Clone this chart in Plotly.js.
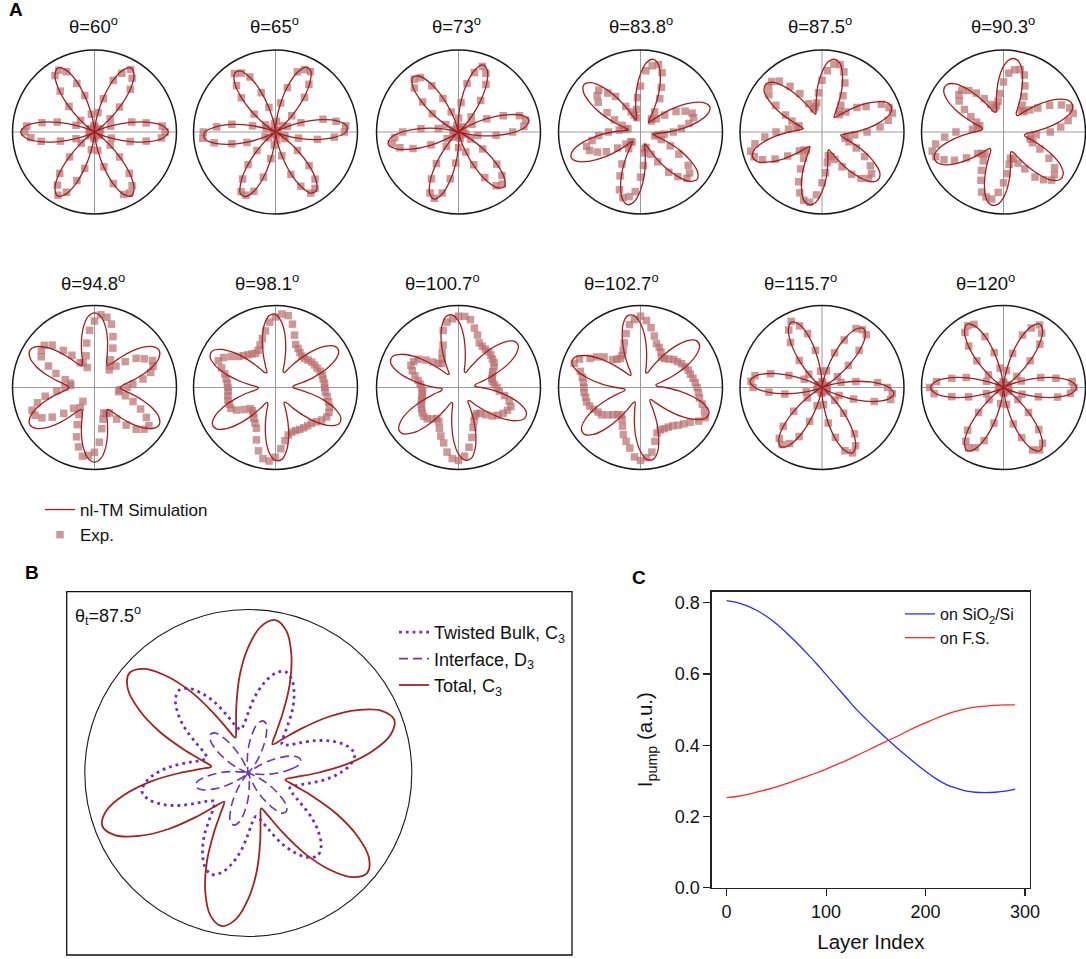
<!DOCTYPE html>
<html><head><meta charset="utf-8">
<script src="https://cdn.plot.ly/plotly-3.0.1.min.js"></script>
<style>html,body{margin:0;padding:0;background:#fff}</style>
</head><body>
<div id="chart" style="width:1086px;height:959px"></div>
<script>
// ---------- DATA ----------
const ANGLES = [0,5,10,15,20,25,30,35,40,45,50,55,60,65,70,75,80,85,90,95,100,105,110,115,120,125,130,135,140,145,150,155,160,165,170,175,180,185,190,195,200,205,210,215,220,225,230,235,240,245,250,255,260,265,270,275,280,285,290,295,300,305,310,315,320,325,330,335,340,345,350,355];

const panelTitles = ['θ=60<sup>o</sup>','θ=65<sup>o</sup>','θ=73<sup>o</sup>','θ=83.8<sup>o</sup>','θ=87.5<sup>o</sup>','θ=90.3<sup>o</sup>',
                     'θ=94.8<sup>o</sup>','θ=98.1<sup>o</sup>','θ=100.7<sup>o</sup>','θ=102.7<sup>o</sup>','θ=115.7<sup>o</sup>','θ=120<sup>o</sup>'];

// nl-TM simulation (normalised radius, 1 = outer circle), sampled every 5 deg
const sim_60 = [0.90,0.84,0.68,0.45,0.23,0.06,0,0.06,0.23,0.45,0.68,0.84, 0.90,0.84,0.68,0.45,0.23,0.06,0,0.06,0.23,0.45,0.68,0.84, 0.90,0.84,0.68,0.45,0.23,0.06,0,0.06,0.23,0.45,0.68,0.84, 0.90,0.84,0.68,0.45,0.23,0.06,0,0.06,0.23,0.45,0.68,0.84, 0.90,0.84,0.68,0.45,0.23,0.06,0,0.06,0.23,0.45,0.68,0.84, 0.90,0.84,0.68,0.45,0.23,0.06,0,0.06,0.23,0.45,0.68,0.84];
const sim_65 = [0.86,0.87,0.77,0.58,0.35,0.15,0.02,0.01,0.11,0.30,0.53,0.73, 0.86,0.87,0.77,0.58,0.35,0.15,0.02,0.01,0.11,0.30,0.53,0.73, 0.86,0.87,0.77,0.58,0.35,0.15,0.02,0.01,0.11,0.30,0.53,0.73, 0.86,0.87,0.77,0.58,0.35,0.15,0.02,0.01,0.11,0.30,0.53,0.73, 0.86,0.87,0.77,0.58,0.35,0.15,0.02,0.01,0.11,0.30,0.53,0.73, 0.86,0.87,0.77,0.58,0.35,0.15,0.02,0.01,0.11,0.30,0.53,0.73];
const sim_73 = [0.69,0.83,0.87,0.79,0.61,0.39,0.18,0.04,0.00,0.08,0.26,0.48, 0.69,0.83,0.87,0.79,0.61,0.39,0.18,0.04,0.00,0.08,0.26,0.48, 0.69,0.83,0.87,0.79,0.61,0.39,0.18,0.04,0.00,0.08,0.26,0.48, 0.69,0.83,0.87,0.79,0.61,0.39,0.18,0.04,0.00,0.08,0.26,0.48, 0.69,0.83,0.87,0.79,0.61,0.39,0.18,0.04,0.00,0.08,0.26,0.48, 0.69,0.83,0.87,0.79,0.61,0.39,0.18,0.04,0.00,0.08,0.26,0.48];
const sim_83_8 = [0.34,0.53,0.71,0.85,0.90,0.85,0.71,0.53,0.34,0.20,0.15,0.20, 0.34,0.53,0.71,0.85,0.90,0.85,0.71,0.53,0.34,0.20,0.15,0.20, 0.34,0.53,0.71,0.85,0.90,0.85,0.71,0.53,0.34,0.20,0.15,0.20, 0.34,0.53,0.71,0.85,0.90,0.85,0.71,0.53,0.34,0.20,0.15,0.20, 0.34,0.53,0.71,0.85,0.90,0.85,0.71,0.53,0.34,0.20,0.15,0.20, 0.34,0.53,0.71,0.85,0.90,0.85,0.71,0.53,0.34,0.20,0.15,0.20];
const sim_87_5 = [0.40,0.57,0.73,0.86,0.90,0.86,0.73,0.57,0.40,0.28,0.23,0.28, 0.40,0.57,0.73,0.86,0.90,0.86,0.73,0.57,0.40,0.28,0.23,0.28, 0.40,0.57,0.73,0.86,0.90,0.86,0.73,0.57,0.40,0.28,0.23,0.28, 0.40,0.57,0.73,0.86,0.90,0.86,0.73,0.57,0.40,0.28,0.23,0.28, 0.40,0.57,0.73,0.86,0.90,0.86,0.73,0.57,0.40,0.28,0.23,0.28, 0.40,0.57,0.73,0.86,0.90,0.86,0.73,0.57,0.40,0.28,0.23,0.28];
const sim_90_3 = [0.36,0.51,0.68,0.83,0.90,0.89,0.80,0.65,0.48,0.34,0.26,0.27, 0.36,0.51,0.68,0.83,0.90,0.89,0.80,0.65,0.48,0.34,0.26,0.27, 0.36,0.51,0.68,0.83,0.90,0.89,0.80,0.65,0.48,0.34,0.26,0.27, 0.36,0.51,0.68,0.83,0.90,0.89,0.80,0.65,0.48,0.34,0.26,0.27, 0.36,0.51,0.68,0.83,0.90,0.89,0.80,0.65,0.48,0.34,0.26,0.27, 0.36,0.51,0.68,0.83,0.90,0.89,0.80,0.65,0.48,0.34,0.26,0.27];
const sim_94_8 = [0.31,0.35,0.46,0.61,0.76,0.87,0.91,0.87,0.76,0.61,0.46,0.35, 0.31,0.35,0.46,0.61,0.76,0.87,0.91,0.87,0.76,0.61,0.46,0.35, 0.31,0.35,0.46,0.61,0.76,0.87,0.91,0.87,0.76,0.61,0.46,0.35, 0.31,0.35,0.46,0.61,0.76,0.87,0.91,0.87,0.76,0.61,0.46,0.35, 0.31,0.35,0.46,0.61,0.76,0.87,0.91,0.87,0.76,0.61,0.46,0.35, 0.31,0.35,0.46,0.61,0.76,0.87,0.91,0.87,0.76,0.61,0.46,0.35];
const sim_98_1 = [0.21,0.22,0.32,0.48,0.66,0.81,0.89,0.88,0.78,0.62,0.44,0.29, 0.21,0.22,0.32,0.48,0.66,0.81,0.89,0.88,0.78,0.62,0.44,0.29, 0.21,0.22,0.32,0.48,0.66,0.81,0.89,0.88,0.78,0.62,0.44,0.29, 0.21,0.22,0.32,0.48,0.66,0.81,0.89,0.88,0.78,0.62,0.44,0.29, 0.21,0.22,0.32,0.48,0.66,0.81,0.89,0.88,0.78,0.62,0.44,0.29, 0.21,0.22,0.32,0.48,0.66,0.81,0.89,0.88,0.78,0.62,0.44,0.29];
const sim_100_7 = [0.28,0.20,0.21,0.31,0.47,0.66,0.81,0.89,0.88,0.78,0.62,0.44, 0.28,0.20,0.21,0.31,0.47,0.66,0.81,0.89,0.88,0.78,0.62,0.44, 0.28,0.20,0.21,0.31,0.47,0.66,0.81,0.89,0.88,0.78,0.62,0.44, 0.28,0.20,0.21,0.31,0.47,0.66,0.81,0.89,0.88,0.78,0.62,0.44, 0.28,0.20,0.21,0.31,0.47,0.66,0.81,0.89,0.88,0.78,0.62,0.44, 0.28,0.20,0.21,0.31,0.47,0.66,0.81,0.89,0.88,0.78,0.62,0.44];
const sim_102_7 = [0.30,0.20,0.19,0.27,0.43,0.62,0.78,0.88,0.89,0.81,0.65,0.47, 0.30,0.20,0.19,0.27,0.43,0.62,0.78,0.88,0.89,0.81,0.65,0.47, 0.30,0.20,0.19,0.27,0.43,0.62,0.78,0.88,0.89,0.81,0.65,0.47, 0.30,0.20,0.19,0.27,0.43,0.62,0.78,0.88,0.89,0.81,0.65,0.47, 0.30,0.20,0.19,0.27,0.43,0.62,0.78,0.88,0.89,0.81,0.65,0.47, 0.30,0.20,0.19,0.27,0.43,0.62,0.78,0.88,0.89,0.81,0.65,0.47];
const sim_115_7 = [0.82,0.66,0.44,0.22,0.06,0,0.06,0.22,0.44,0.66,0.82,0.88, 0.82,0.66,0.44,0.22,0.06,0,0.06,0.22,0.44,0.66,0.82,0.88, 0.82,0.66,0.44,0.22,0.06,0,0.06,0.22,0.44,0.66,0.82,0.88, 0.82,0.66,0.44,0.22,0.06,0,0.06,0.22,0.44,0.66,0.82,0.88, 0.82,0.66,0.44,0.22,0.06,0,0.06,0.22,0.44,0.66,0.82,0.88, 0.82,0.66,0.44,0.22,0.06,0,0.06,0.22,0.44,0.66,0.82,0.88];
const sim_120 = [0.89,0.83,0.67,0.45,0.22,0.06,0,0.06,0.22,0.45,0.67,0.83, 0.89,0.83,0.67,0.45,0.22,0.06,0,0.06,0.22,0.45,0.67,0.83, 0.89,0.83,0.67,0.45,0.22,0.06,0,0.06,0.22,0.45,0.67,0.83, 0.89,0.83,0.67,0.45,0.22,0.06,0,0.06,0.22,0.45,0.67,0.83, 0.89,0.83,0.67,0.45,0.22,0.06,0,0.06,0.22,0.45,0.67,0.83, 0.89,0.83,0.67,0.45,0.22,0.06,0,0.06,0.22,0.45,0.67,0.83];

// experimental points (normalised radius), every 5 deg
const exp_60 = [0.86,0.83,0.64,0.47,0.21,0.08,0.02,0.06,0.25,0.43,0.68,0.80, 0.88,0.79,0.67,0.42,0.24,0.06,0.01,0.08,0.22,0.46,0.63,0.81, 0.87,0.84,0.65,0.44,0.22,0.07,0.02,0.07,0.24,0.47,0.65,0.83, 0.85,0.78,0.66,0.43,0.24,0.05,0.01,0.08,0.21,0.43,0.66,0.79, 0.89,0.81,0.63,0.46,0.22,0.08,0.02,0.06,0.23,0.44,0.67,0.84, 0.86,0.80,0.66,0.43,0.25,0.07,0.01,0.07,0.22,0.45,0.64,0.82];
const exp_65 = [0.84,0.86,0.75,0.60,0.33,0.16,0.03,0.02,0.12,0.28,0.55,0.71, 0.85,0.84,0.78,0.56,0.36,0.13,0.02,0.02,0.10,0.31,0.51,0.74, 0.83,0.87,0.74,0.59,0.34,0.15,0.03,0.01,0.12,0.29,0.54,0.72, 0.88,0.89,0.76,0.55,0.37,0.14,0.02,0.02,0.11,0.32,0.52,0.70, 0.84,0.85,0.77,0.57,0.33,0.16,0.03,0.01,0.10,0.30,0.55,0.73, 0.86,0.84,0.75,0.58,0.35,0.14,0.02,0.02,0.12,0.29,0.52,0.72];
const exp_73 = [0.66,0.80,0.83,0.77,0.58,0.38,0.19,0.05,0.02,0.09,0.24,0.47, 0.67,0.79,0.85,0.75,0.60,0.36,0.17,0.05,0.01,0.08,0.26,0.45, 0.65,0.81,0.84,0.76,0.57,0.39,0.18,0.06,0.02,0.07,0.25,0.46, 0.68,0.78,0.82,0.74,0.59,0.37,0.16,0.04,0.01,0.09,0.23,0.47, 0.66,0.82,0.86,0.77,0.58,0.38,0.19,0.05,0.02,0.08,0.26,0.44, 0.64,0.80,0.83,0.75,0.61,0.36,0.17,0.06,0.01,0.09,0.24,0.46];
const exp_83_8 = [0.40,0.50,0.60,0.67,0.67,0.60,0.50,0.36,0.25,0.19,0.21,0.30, 0.47,0.60,0.77,0.85,0.82,0.75,0.56,0.42,0.28,0.18,0.22,0.27, 0.36,0.53,0.62,0.72,0.69,0.63,0.47,0.35,0.24,0.16,0.19,0.26, 0.39,0.51,0.60,0.68,0.66,0.58,0.48,0.34,0.23,0.17,0.16,0.25, 0.45,0.59,0.75,0.83,0.80,0.73,0.55,0.41,0.26,0.21,0.20,0.30, 0.42,0.60,0.71,0.80,0.78,0.71,0.54,0.40,0.27,0.18,0.21,0.29];
const exp_87_5 = [0.55,0.71,0.82,0.89,0.87,0.80,0.62,0.52,0.38,0.30,0.33,0.40, 0.51,0.66,0.78,0.85,0.84,0.75,0.63,0.48,0.36,0.32,0.30,0.38, 0.54,0.68,0.81,0.87,0.85,0.79,0.65,0.49,0.39,0.29,0.32,0.41, 0.56,0.70,0.83,0.90,0.88,0.80,0.66,0.51,0.36,0.31,0.30,0.39, 0.52,0.67,0.79,0.86,0.87,0.77,0.62,0.50,0.38,0.30,0.32,0.37, 0.49,0.63,0.74,0.80,0.79,0.72,0.60,0.46,0.35,0.29,0.31,0.40];
const exp_90_3 = [0.57,0.70,0.80,0.88,0.86,0.78,0.65,0.51,0.42,0.35,0.34,0.40, 0.50,0.62,0.74,0.79,0.77,0.72,0.61,0.47,0.38,0.33,0.31,0.37, 0.47,0.58,0.66,0.72,0.71,0.66,0.55,0.44,0.35,0.30,0.32,0.38, 0.58,0.72,0.84,0.90,0.88,0.80,0.69,0.55,0.41,0.37,0.35,0.43, 0.54,0.65,0.78,0.82,0.83,0.74,0.62,0.51,0.40,0.33,0.35,0.42, 0.52,0.67,0.76,0.83,0.81,0.76,0.64,0.49,0.38,0.34,0.33,0.40];
const exp_94_8 = [0.40,0.47,0.60,0.71,0.76,0.78,0.70,0.62,0.49,0.37,0.28,0.32, 0.39,0.53,0.66,0.80,0.87,0.89,0.81,0.70,0.55,0.40,0.26,0.33, 0.35,0.48,0.59,0.73,0.80,0.79,0.75,0.62,0.50,0.37,0.30,0.29, 0.36,0.46,0.61,0.72,0.81,0.80,0.74,0.63,0.49,0.36,0.22,0.30, 0.38,0.50,0.64,0.75,0.85,0.83,0.79,0.67,0.51,0.40,0.33,0.35, 0.36,0.47,0.60,0.72,0.79,0.81,0.73,0.62,0.50,0.39,0.30,0.31];
const exp_98_1 = [0.60,0.60,0.59,0.59,0.58,0.56,0.55,0.54,0.52,0.50,0.50,0.52, 0.55,0.58,0.68,0.80,0.89,0.90,0.86,0.80,0.70,0.62,0.55,0.50, 0.48,0.50,0.52,0.55,0.59,0.66,0.73,0.77,0.70,0.64,0.61,0.59, 0.58,0.58,0.59,0.60,0.60,0.60,0.55,0.47,0.40,0.40,0.42,0.46, 0.50,0.55,0.68,0.80,0.88,0.90,0.85,0.75,0.66,0.60,0.58,0.58, 0.59,0.60,0.61,0.62,0.65,0.69,0.72,0.72,0.70,0.67,0.64,0.61];
const exp_100_7 = [0.47,0.44,0.42,0.42,0.44,0.46,0.50,0.53,0.54,0.56,0.57,0.57, 0.58,0.60,0.68,0.75,0.84,0.87,0.87,0.84,0.81,0.72,0.55,0.47, 0.40,0.36,0.38,0.44,0.52,0.60,0.63,0.64,0.60,0.55,0.50,0.47, 0.45,0.44,0.45,0.46,0.48,0.50,0.52,0.54,0.55,0.54,0.50,0.46, 0.48,0.55,0.63,0.70,0.80,0.87,0.89,0.84,0.74,0.63,0.52,0.45, 0.40,0.39,0.41,0.47,0.54,0.59,0.63,0.66,0.68,0.64,0.57,0.50];
const exp_102_7 = [0.69,0.67,0.65,0.63,0.62,0.60,0.58,0.55,0.53,0.49,0.46,0.45, 0.50,0.54,0.57,0.65,0.74,0.82,0.87,0.83,0.78,0.68,0.58,0.50, 0.45,0.43,0.45,0.48,0.58,0.65,0.71,0.82,0.86,0.76,0.72,0.70, 0.69,0.69,0.68,0.68,0.66,0.63,0.60,0.58,0.52,0.47,0.43,0.41, 0.45,0.52,0.61,0.68,0.75,0.85,0.89,0.86,0.80,0.68,0.59,0.57, 0.58,0.59,0.61,0.65,0.69,0.74,0.82,0.87,0.83,0.78,0.73,0.71];
const exp_115_7 = [0.80,0.68,0.42,0.24,0.07,0.01,0.05,0.23,0.42,0.64,0.84,0.86, 0.83,0.64,0.45,0.21,0.06,0.02,0.07,0.20,0.46,0.68,0.80,0.89, 0.81,0.67,0.43,0.23,0.05,0.01,0.06,0.24,0.43,0.65,0.83,0.87, 0.84,0.65,0.46,0.20,0.07,0.02,0.05,0.22,0.45,0.67,0.81,0.85, 0.79,0.66,0.44,0.23,0.06,0.01,0.07,0.21,0.44,0.63,0.82,0.88, 0.82,0.69,0.41,0.22,0.08,0.02,0.06,0.23,0.41,0.66,0.85,0.86];
const exp_120 = [0.86,0.84,0.65,0.47,0.23,0.07,0.01,0.05,0.21,0.46,0.69,0.81, 0.88,0.80,0.68,0.43,0.21,0.06,0.02,0.07,0.24,0.44,0.66,0.85, 0.87,0.82,0.66,0.46,0.24,0.05,0.01,0.06,0.22,0.47,0.64,0.82, 0.90,0.85,0.64,0.44,0.22,0.07,0.02,0.05,0.23,0.43,0.68,0.80, 0.85,0.81,0.69,0.45,0.20,0.06,0.01,0.07,0.21,0.46,0.65,0.84, 0.88,0.83,0.67,0.43,0.23,0.08,0.02,0.06,0.24,0.44,0.67,0.82];

// Panel B (theta_t = 87.5 deg), every 5 deg
const B_bulk = [0.56,0.63,0.66,0.63,0.56,0.47,0.37,0.30,0.27,0.30,0.37,0.47, 0.56,0.63,0.66,0.63,0.56,0.47,0.37,0.30,0.27,0.30,0.37,0.47, 0.56,0.63,0.66,0.63,0.56,0.47,0.37,0.30,0.27,0.30,0.37,0.47, 0.56,0.63,0.66,0.63,0.56,0.47,0.37,0.30,0.27,0.30,0.37,0.47, 0.56,0.63,0.66,0.63,0.56,0.47,0.37,0.30,0.27,0.30,0.37,0.47, 0.56,0.63,0.66,0.63,0.56,0.47,0.37,0.30,0.27,0.30,0.37,0.47];
const B_interface = [0.18,0.26,0.32,0.33,0.30,0.23,0.15,0.07,0.01,0.00,0.03,0.10, 0.18,0.26,0.32,0.33,0.30,0.23,0.15,0.07,0.01,0.00,0.03,0.10, 0.18,0.26,0.32,0.33,0.30,0.23,0.15,0.07,0.01,0.00,0.03,0.10, 0.18,0.26,0.32,0.33,0.30,0.23,0.15,0.07,0.01,0.00,0.03,0.10, 0.18,0.26,0.32,0.33,0.30,0.23,0.15,0.07,0.01,0.00,0.03,0.10, 0.18,0.26,0.32,0.33,0.30,0.23,0.15,0.07,0.01,0.00,0.03,0.10];
const B_total = [0.42,0.60,0.77,0.90,0.95,0.90,0.77,0.60,0.42,0.29,0.23,0.29, 0.42,0.60,0.77,0.90,0.95,0.90,0.77,0.60,0.42,0.29,0.23,0.29, 0.42,0.60,0.77,0.90,0.95,0.90,0.77,0.60,0.42,0.29,0.23,0.29, 0.42,0.60,0.77,0.90,0.95,0.90,0.77,0.60,0.42,0.29,0.23,0.29, 0.42,0.60,0.77,0.90,0.95,0.90,0.77,0.60,0.42,0.29,0.23,0.29, 0.42,0.60,0.77,0.90,0.95,0.90,0.77,0.60,0.42,0.29,0.23,0.29];
const B_label = 'θ<sub>t</sub>=87.5<sup>o</sup>';
const B_names = ['Twisted Bulk, C<sub>3</sub>','Interface, D<sub>3</sub>','Total, C<sub>3</sub>'];

// Panel C
const layerIndex = [0,10,20,30,40,50,60,70,80,90,100,110,120,130,140,150,160,170,180,190,200,210,220,230,240,250,260,270,280,290];
const pump_SiO2Si = [0.806,0.801,0.792,0.779,0.762,0.741,0.716,0.689,0.660,0.630,0.598,0.566,0.534,0.502,0.474,0.447,0.421,0.396,0.372,0.349,0.327,0.307,0.291,0.280,0.272,0.268,0.267,0.268,0.271,0.277];
const pump_FS = [0.253,0.256,0.261,0.268,0.275,0.283,0.292,0.302,0.312,0.322,0.333,0.345,0.357,0.370,0.383,0.397,0.410,0.423,0.437,0.451,0.463,0.475,0.486,0.495,0.502,0.507,0.510,0.512,0.513,0.513];
const xTicks = [0,100,200,300];
const yTicks = [0,0.2,0.4,0.6,0.8];
const yTickText = ['0.0','0.2','0.4','0.6','0.8'];

// ---------- BUILD ----------
const W = 1086, H = 959;
const FONT = 'Arial, "Liberation Sans", Helvetica, sans-serif';
const SIM = [sim_60,sim_65,sim_73,sim_83_8,sim_87_5,sim_90_3,sim_94_8,sim_98_1,sim_100_7,sim_102_7,sim_115_7,sim_120];
const EXP = [exp_60,exp_65,exp_73,exp_83_8,exp_87_5,exp_90_3,exp_94_8,exp_98_1,exp_100_7,exp_102_7,exp_115_7,exp_120];
const COL_X = [94.5, 275.5, 458.5, 640.5, 822, 1003.5];
const ROW_Y = [132, 387.5];
const TITLE_X = [[93.5,274.5,456,641,820,1003],[92.5,267,442,621,800,985]];
const TITLE_Y = [25, 282];
const RAD = 82;

const closeR = a => a.concat([a[0]]);
const closeT = a => a.concat([a[0] + 360]);

function polarCfg(cx, cy, rad, cross, lw) {
  return {
    domain: {x: [(cx - rad) / W, (cx + rad) / W], y: [1 - (cy + rad) / H, 1 - (cy - rad) / H]},
    bgcolor: 'rgba(0,0,0,0)',
    radialaxis: {range: [0, 1], visible: false},
    angularaxis: {
      showticklabels: false, ticks: '', showline: true, linecolor: '#1a1a1a', linewidth: lw,
      showgrid: cross, gridcolor: '#9a9a9a', gridwidth: 1, tick0: 0, dtick: 90,
      direction: 'counterclockwise', rotation: 0
    }
  };
}

const traces = [];
const layout = {
  width: W, height: H, margin: {l: 0, r: 0, t: 0, b: 0},
  paper_bgcolor: '#fff', plot_bgcolor: '#fff',
  font: {family: FONT, color: '#111', size: 16},
  showlegend: true, annotations: [], shapes: []
};

for (let i = 0; i < 12; i++) {
  const id = i === 0 ? 'polar' : 'polar' + (i + 1);
  const row = Math.floor(i / 6), col = i % 6;
  layout[id] = polarCfg(COL_X[col], ROW_Y[row], RAD, true, 1.5);
  traces.push({
    type: 'scatterpolar', subplot: id, mode: 'markers', name: 'Exp.',
    r: EXP[i], theta: ANGLES,
    marker: {symbol: 'square', size: 7.5, color: 'rgba(186,112,112,0.72)', line: {width: 0}},
    showlegend: i === 0, legend: 'legend', legendgroup: 'exp', legendrank: 2, hoverinfo: 'skip'
  });
  traces.push({
    type: 'scatterpolar', subplot: id, mode: 'lines', name: 'nl-TM Simulation',
    r: closeR(SIM[i]), theta: closeT(ANGLES),
    line: {color: '#a31e1e', width: 1.3, shape: 'spline', smoothing: 1},
    showlegend: i === 0, legend: 'legend', legendgroup: 'sim', legendrank: 1, hoverinfo: 'skip'
  });
  layout.annotations.push({
    text: panelTitles[i], xref: 'paper', yref: 'paper',
    x: TITLE_X[row][col] / W, y: 1 - TITLE_Y[row] / H, xanchor: 'center', yanchor: 'middle',
    showarrow: false, font: {size: 18.5, color: '#111'}
  });
}

// Panel B
layout.polar13 = polarCfg(248.3, 773, 163.5, false, 1.1);
const Bstyles = [
  {color: '#6e2ec6', width: 2.8, dash: '2.8px,4px'},
  {color: '#6a36b4', width: 1.6, dash: '9px,5px'},
  {color: '#a32222', width: 1.8, dash: 'solid'}
];
[B_bulk, B_interface, B_total].forEach((arr, k) => {
  traces.push({
    type: 'scatterpolar', subplot: 'polar13', mode: 'lines', name: B_names[k],
    r: closeR(arr), theta: closeT(ANGLES),
    line: Object.assign({shape: 'spline', smoothing: 1}, Bstyles[k]),
    legend: 'legend2', hoverinfo: 'skip'
  });
});

// Panel C
traces.push({type: 'scatter', mode: 'lines', x: layerIndex, y: pump_SiO2Si, name: 'on SiO<sub>2</sub>/Si',
  line: {color: '#2b2bff', width: 1.3, shape: 'spline'}, xaxis: 'x', yaxis: 'y', legend: 'legend3', hoverinfo: 'skip'});
traces.push({type: 'scatter', mode: 'lines', x: layerIndex, y: pump_FS, name: 'on F.S.',
  line: {color: '#ff2a2a', width: 1.3, shape: 'spline'}, xaxis: 'x', yaxis: 'y', legend: 'legend3', hoverinfo: 'skip'});

layout.xaxis = {
  domain: [711.7 / W, 1030 / W], anchor: 'y', range: [-15, 305],
  tickmode: 'array', tickvals: xTicks, ticks: 'outside', ticklen: 7, tickwidth: 1.1, tickcolor: '#222',
  showline: true, mirror: true, linecolor: '#222', linewidth: 1.3, showgrid: false, zeroline: false,
  tickfont: {size: 18, color: '#111'},
  title: {text: 'Layer Index', font: {size: 20.5, color: '#111'}, standoff: 14}
};
layout.yaxis = {
  domain: [1 - 887.7 / H, 1 - 591.7 / H], anchor: 'x', range: [0, 0.831],
  tickmode: 'array', tickvals: yTicks, ticktext: yTickText, ticks: 'outside', ticklen: 7, tickwidth: 1.1, tickcolor: '#222',
  showline: true, mirror: true, linecolor: '#222', linewidth: 1.3, showgrid: false, zeroline: false,
  tickfont: {size: 18, color: '#111'},
  title: {text: 'I<sub>pump</sub> (a.u.)', font: {size: 20.5, color: '#111'}, standoff: 16}
};

// Legends
layout.legend = {x: 40 / W, y: 1 - 492 / H, xanchor: 'left', yanchor: 'top', bgcolor: 'rgba(0,0,0,0)',
  font: {size: 17, color: '#111'}, tracegroupgap: 0, itemwidth: 30, traceorder: 'normal'};
layout.legend2 = {x: 394 / W, y: 1 - 614 / H, xanchor: 'left', yanchor: 'top', bgcolor: 'rgba(0,0,0,0)',
  font: {size: 18, color: '#111'}, itemwidth: 30};
layout.legend3 = {x: 900 / W, y: 1 - 597 / H, xanchor: 'left', yanchor: 'top', bgcolor: 'rgba(0,0,0,0)',
  font: {size: 16, color: '#111'}, itemwidth: 30};

// Panel letters and labels
[['A', 16, 10], ['B', 32, 572], ['C', 639, 577]].forEach(p => {
  layout.annotations.push({text: '<b>' + p[0] + '</b>', xref: 'paper', yref: 'paper', x: p[1] / W, y: 1 - p[2] / H,
    xanchor: 'center', yanchor: 'middle', showarrow: false, font: {size: 19, color: '#000'}});
});
layout.annotations.push({text: B_label, xref: 'paper', yref: 'paper', x: 73 / W, y: 1 - 615 / H,
  xanchor: 'left', yanchor: 'middle', showarrow: false, font: {size: 18, color: '#111'}});

// Panel B frame
layout.shapes.push({type: 'rect', xref: 'paper', yref: 'paper', x0: 66.7 / W, x1: 572 / W, y0: 1 - 955 / H, y1: 1 - 591.7 / H,
  line: {color: '#111', width: 1.3}, fillcolor: 'rgba(0,0,0,0)', layer: 'below'});

Plotly.newPlot('chart', traces, layout, {staticPlot: true, displayModeBar: false});
</script>
</body></html>
